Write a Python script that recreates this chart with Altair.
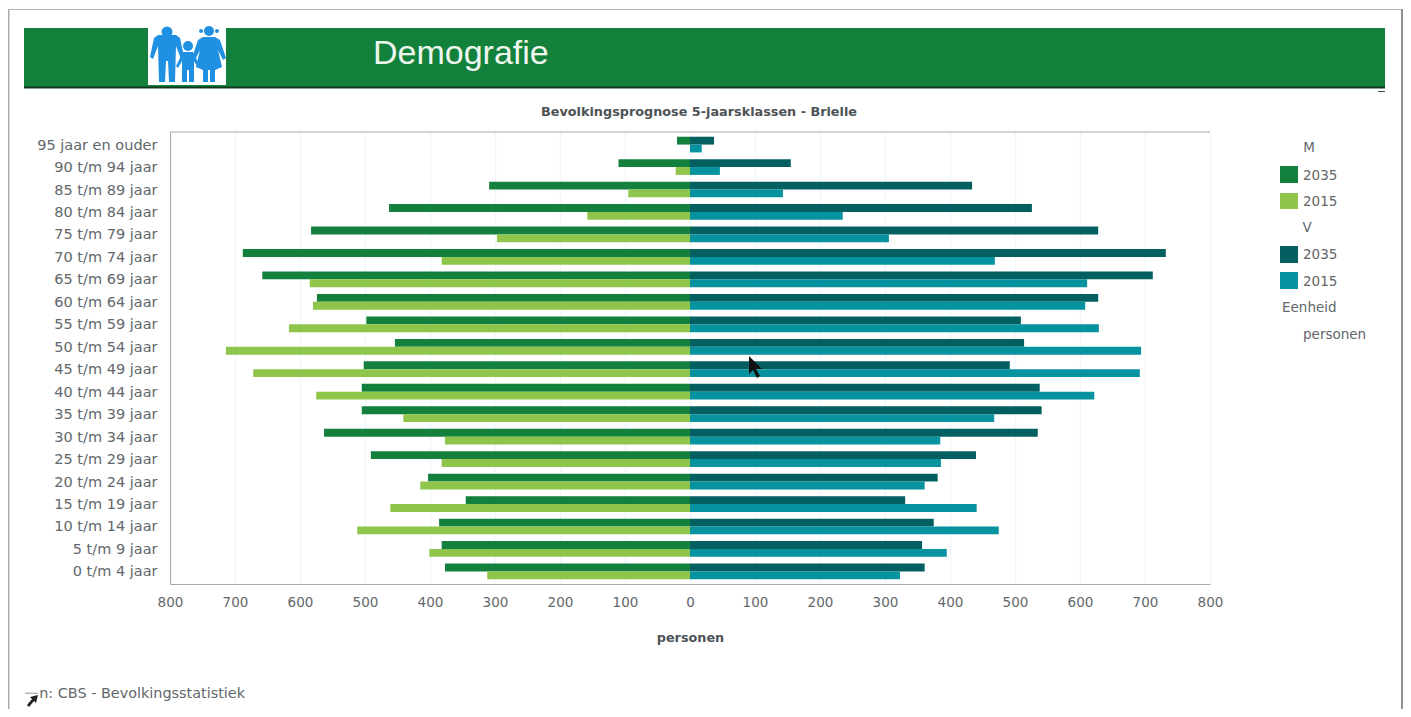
import altair as alt
import pandas as pd

FONT = "DejaVu Sans"
GREY = "#62676b"
ages = ["95 jaar en ouder","90 t/m 94 jaar","85 t/m 89 jaar","80 t/m 84 jaar","75 t/m 79 jaar",
        "70 t/m 74 jaar","65 t/m 69 jaar","60 t/m 64 jaar","55 t/m 59 jaar","50 t/m 54 jaar",
        "45 t/m 49 jaar","40 t/m 44 jaar","35 t/m 39 jaar","30 t/m 34 jaar","25 t/m 29 jaar",
        "20 t/m 24 jaar","15 t/m 19 jaar","10 t/m 14 jaar","5 t/m 9 jaar","0 t/m 4 jaar"]
m2035 = [20,110,309,463,583,688,658,574,498,454,502,505,505,563,491,403,345,386,382,377]
m2015 = [0,22,95,158,297,382,585,580,617,714,672,575,441,377,382,415,461,512,401,312]
v2035 = [37,155,434,526,628,732,712,628,509,514,492,538,541,535,440,381,331,375,357,361]
v2015 = [18,46,143,235,306,469,611,608,629,694,692,622,468,385,386,361,441,475,395,323]
keys = ["M 2035","M 2015","V 2035","V 2015"]
colors = ["#13803e","#8fc54b","#045f60","#06929f"]

rows = []
for key, sign, vals in [("M 2035",-1,m2035),("M 2015",-1,m2015),("V 2035",1,v2035),("V 2015",1,v2015)]:
    for a, v in zip(ages, vals):
        rows.append({"age":a,"key":key,"year":key[2:],"value":sign*v})
df = pd.DataFrame(rows)
one = pd.DataFrame({"a":[0]})

OX, OY = 170, 132
W, H = 1040, 452
def X(p): return alt.value(p-OX)
def Y(p): return alt.value(p-OY)

def rect(x1,x2,y1,y2,color):
    return alt.Chart(one).mark_rect(color=color).encode(x=X(x1),x2=X(x2),y=Y(y1),y2=Y(y2))
def text(t,x,y,size=13.5,weight="normal",align="left",color=GREY,font=FONT):
    return alt.Chart(one).mark_text(text=t,fontSize=size,fontWeight=weight,align=align,baseline="middle",
                                    color=color,font=font).encode(x=X(x),y=Y(y))
def shape(path,x,y,color):
    return alt.Chart(one).mark_point(shape=path,size=4,filled=True,opacity=1,color=color,strokeWidth=0).encode(x=X(x),y=Y(y))
def dot(x,y,d,color):
    return alt.Chart(one).mark_point(shape="circle",size=d*d,filled=True,opacity=1,color=color,strokeWidth=0).encode(x=X(x),y=Y(y))

BLUE = "#2090e2"
father = "M-9,-23 L9,-23 L13,-20 L17,-1 L14,1 L9,-12 L8,24 L2,24 L1,3 L-1,3 L-2,24 L-8,24 L-9,-12 L-14,1 L-17,-1 L-13,-20 Z"
child = "M-5,-13 L5,-13 L12,1 L10,3 L6,-4 L6,17 L1,17 L1,5 L-1,5 L-1,17 L-6,17 L-6,-4 L-10,3 L-12,1 Z"
mother = "M-6,-21 L6,-21 L11,-18 L17,0 L14,2 L9,-8 L13,9 L6,12 L6,24 L1,24 L1,12 L-1,12 L-1,24 L-6,24 L-6,12 L-13,9 L-9,-8 L-14,2 L-17,0 L-11,-18 Z"
cursor = "M0,0 L0,18 L4,14 L8,22 L11,20 L7,13 L13,13 Z"
small_cursor = "M6,-6 L-2,-4 L0,-2 L-5,4 L-3,6 L2,0 L4,2 Z"

deco = [
    rect(8,9.5,9,709,"#a9abad"), rect(8,1403,9,10,"#b5b7b9"), rect(1401,1403,9,709,"#8d9093"),
    rect(24,1385,28,87,"#13803c"), rect(24,1385,86.5,88.5,"#0c3a1e"), rect(1378,1385,91,92,"#444444"),
    rect(148,226,28,85,"#ffffff"),
    shape(father,167,58,BLUE), dot(167,32,11,BLUE),
    shape(child,188,65,BLUE), dot(188,46,10,BLUE),
    shape(mother,209,58,BLUE), dot(209,31,10,BLUE), dot(201,31,4,BLUE), dot(217,31,4,BLUE),
    text("Demografie",373,53.5,size=34,color="#eef6ee",font="Liberation Sans"),
    text("Bevolkingsprognose 5-jaarsklassen - Brielle",699,112,size=12.8,weight="bold",align="center",color="#4d5256"),
    rect(170,1210,131.5,132.5,"#a5a8aa"),
    text("n: CBS - Bevolkingsstatistiek",245,693.5,size=14.4,align="right"),
    rect(25,38,692.5,694,"#b4b8bb"),
]

bars = alt.Chart(df).mark_bar().encode(
    x=alt.X("value:Q", stack=None,
            scale=alt.Scale(domain=[-800,800], nice=False),
            axis=alt.Axis(values=list(range(-800,801,100)), labelExpr="abs(datum.value)", title="personen",
                          grid=True, gridColor="#eef8fa", gridWidth=1.5, domain=True, domainColor="#a5a8aa",
                          ticks=False, labelPadding=11, labelFontSize=13.5, labelColor=GREY, labelFont=FONT,
                          labelFlush=False,
                          titleFont=FONT, titleFontSize=12.8, titleFontWeight="bold", titleColor="#4d5256",
                          titlePadding=23)),
    y=alt.Y("age:N", sort=ages, scale=alt.Scale(paddingInner=0.3, paddingOuter=0.21),
            axis=alt.Axis(title=None, grid=False, ticks=False, domain=True, domainColor="#a5a8aa",
                          labelPadding=13, labelFontSize=14.5, labelColor=GREY, labelFont=FONT, labelLimit=200,
                          labelOffset=1)),
    yOffset=alt.YOffset("year:N", sort=["2035","2015"], scale=alt.Scale(paddingInner=0, paddingOuter=0)),
    color=alt.Color("key:N", scale=alt.Scale(domain=keys, range=colors), legend=None),
)

legend = [
    text("M",1309,148,align="center"),
    rect(1280,1298,166,183,colors[0]), text("2035",1303,176),
    rect(1280,1298,193,209,colors[1]), text("2015",1303,202),
    text("V",1307,228,align="center"),
    rect(1280,1298,246,263,colors[2]), text("2035",1303,255),
    rect(1280,1298,272,289,colors[3]), text("2015",1303,282),
    text("Eenheid",1282,308),
    text("personen",1303,335),
]

top = [shape(cursor,749,356,"#111111"), shape(small_cursor,32,701,"#222222")]

chart = alt.layer(*deco, bars, *legend, *top).properties(
    width=W, height=H,
    padding={"left":162,"top":124,"right":193,"bottom":125},
    autosize=alt.AutoSizeParams(type="none"),
).configure_view(stroke=None)

chart.save("out.html", embed_options={"renderer": "svg", "actions": False})
